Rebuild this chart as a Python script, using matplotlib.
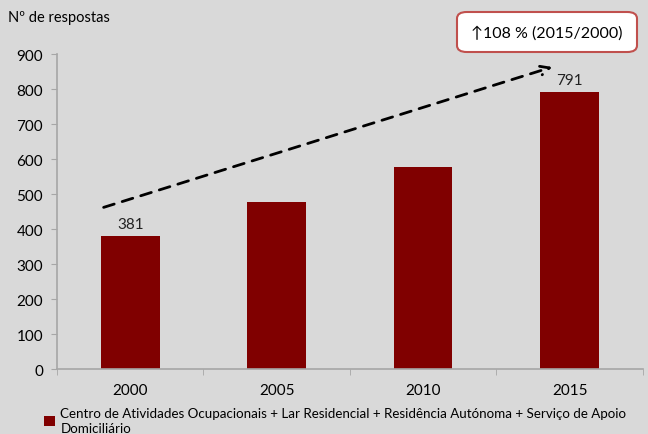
import matplotlib.pyplot as plt
from matplotlib.patches import FancyBboxPatch

# data
years = ['2000', '2005', '2010', '2015']
respostas = [381, 479, 579, 791]
labelled = [0, 3]   # only first and last bars carry a value label
serie = ('Centro de Atividades Ocupacionais + Lar Residencial + Residência Autónoma + Serviço de Apoio\n'
         'Domiciliário')
growth_txt = '↑108 % (2015/2000)'

bg = '#d9d9d9'
bar_col = '#800000'
axis_col = '#a6a6a6'

plt.rcParams['font.family'] = ['Lato', 'DejaVu Sans']

fig = plt.figure(figsize=(6.48, 4.35), dpi=100, facecolor=bg)
ax = fig.add_axes([0.088, 0.149, 0.904, 0.724])
ax.set_facecolor(bg)

x = list(range(len(years)))
bars = ax.bar(x, respostas, width=0.4, color=bar_col, label=serie, zorder=2)

for i in labelled:
    ax.text(x[i], respostas[i] + 15, str(respostas[i]), ha='center', va='bottom',
            fontsize=11, color='#222222')

ax.set_xlim(-0.5, 3.5)
ax.set_ylim(0, 900)
ax.set_yticks(range(0, 901, 100))
ax.set_xticks(x)
ax.set_xticklabels(years)
ax.set_xticks([-0.5, 0.5, 1.5, 2.5, 3.5], minor=True)
ax.tick_params(axis='x', which='major', length=0, pad=10, labelsize=11)
ax.tick_params(axis='x', which='minor', length=4, color=axis_col, direction='out')
ax.tick_params(axis='y', length=4, color=axis_col, direction='out', labelsize=11, pad=6)

for s in ['top', 'right']:
    ax.spines[s].set_visible(False)
for s in ['left', 'bottom']:
    ax.spines[s].set_color(axis_col)
    ax.spines[s].set_linewidth(1.2)

# dashed trend arrow
ax.annotate('', xy=(2.9, 866), xytext=(-0.2, 460),
            arrowprops=dict(arrowstyle='->', linestyle=(0, (4, 3)), lw=2,
                            color='black', mutation_scale=16),
            annotation_clip=False)

# growth box
box = FancyBboxPatch((457 / 648, 1 - 53 / 435), 180 / 648, 40 / 435,
                     boxstyle='round,pad=0,rounding_size=0.015',
                     transform=fig.transFigure, facecolor='white',
                     edgecolor='#c0504d', linewidth=1.5)
fig.patches.append(box)
fig.text((457 + 90) / 648, 1 - 33 / 435, growth_txt, ha='center', va='center', fontsize=11.5)

fig.text(8 / 648, 1 - 18 / 435, 'Nº de respostas', ha='left', va='center', fontsize=10.5)

fig.legend(handles=[bars], labels=[serie], loc='upper left',
           bbox_to_anchor=(0.058, 1 - 401 / 435), frameon=False, borderpad=0,
           handlelength=0.8, handleheight=0.8, handletextpad=0.4,
           prop=dict(size=9.6))
for t in fig.legends[0].get_texts():
    t.set_linespacing(1.35)

fig.savefig('out.png', dpi=100, facecolor=bg)
